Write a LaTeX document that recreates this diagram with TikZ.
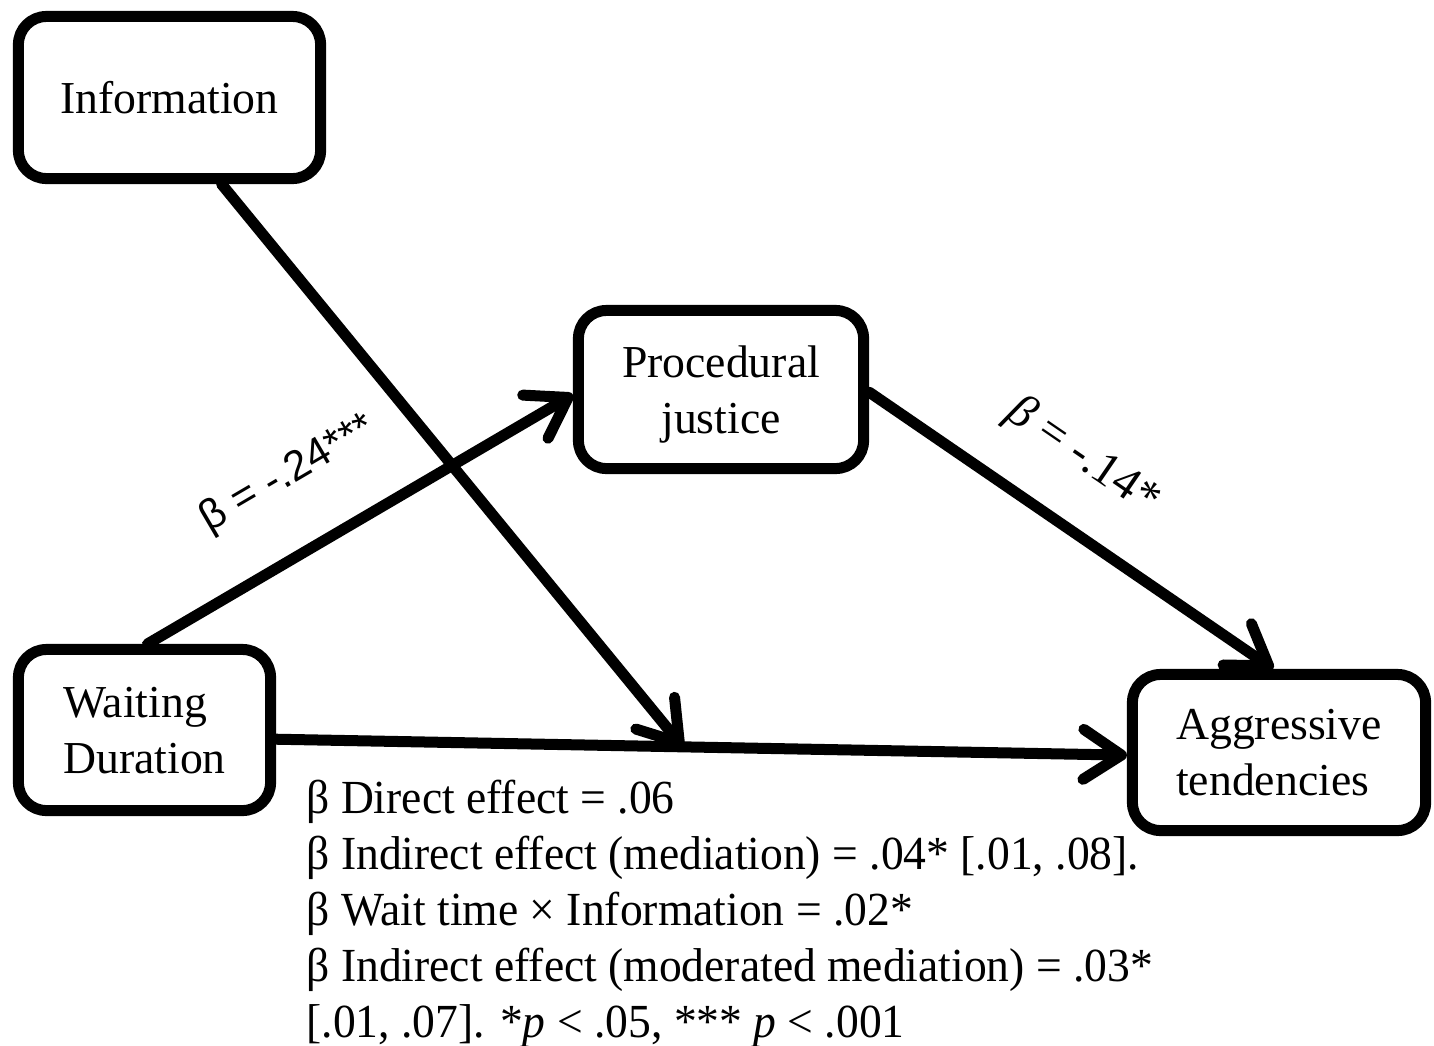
\documentclass[tikz,border=0pt]{standalone}
\usepackage{fontspec}
\setmainfont{Liberation Serif}
\newfontfamily\notefont[FakeStretch=0.96]{Liberation Serif}
\newfontfamily\sansbeta{Liberation Sans}
\usetikzlibrary{arrows.meta}

\begin{document}
\begin{tikzpicture}
  [x=0.01cm,y=-0.01cm,line width=1.1mm,
   box/.style={draw,rounded corners=2.8mm,inner sep=0pt,text depth=0pt,font=\fontsize{13}{15.9}\selectfont},
   link/.style={-{Straight Barb[length=3.8mm,width=5mm,round]},line cap=round},
   coef/.style={sloped,inner sep=0pt}]

  \useasboundingbox (0,0) rectangle (1434,1045);

  \node[box,minimum width=3.02cm,minimum height=1.62cm] (info) at (169.5,97.5) {Information};
  \node[box,align=center,minimum width=2.85cm,minimum height=1.58cm] (proc) at (721,389.5) {Procedural\\justice};
  \node[box,align=left,minimum width=2.52cm,minimum height=1.61cm] (wait) at (144.5,730) {Waiting\\Duration};
  \node[box,align=left,minimum width=2.93cm,minimum height=1.56cm] (aggr) at (1279,752.5) {Aggressive\\tendencies};

  \draw[link] (wait.-4.3) -- coordinate[pos=0.478] (mod) (aggr.181.7);
  \draw[link] (info.-59.4) -- (mod);
  \draw[link] (wait.88) -- node[coef,pos=0.42,above=5mm,font=\sansbeta\fontsize{12}{14}\selectfont] (b1) {β = -.24***} (proc.182);
  \draw[link] (proc.-1.3) -- node[coef,pos=0.435,above=4mm,font=\fontsize{13.5}{15}\selectfont] (b2) {\textit{β} = -.14*} (aggr.94.7);

  % effects below the direct path
  \node[anchor=north west,inner sep=0pt,align=left,font=\notefont\fontsize{13.5}{15.9}\selectfont] (notes) at (301,775)
    {β Direct effect = .06\\
     β Indirect effect (mediation) = .04* [.01, .08].\\
     β Wait time × Information = .02*\\
     β Indirect effect (moderated mediation) = .03*\\
     {[.01, .07]}. *\textit{p} < .05, *** \textit{p} < .001};
\end{tikzpicture}
\end{document}
